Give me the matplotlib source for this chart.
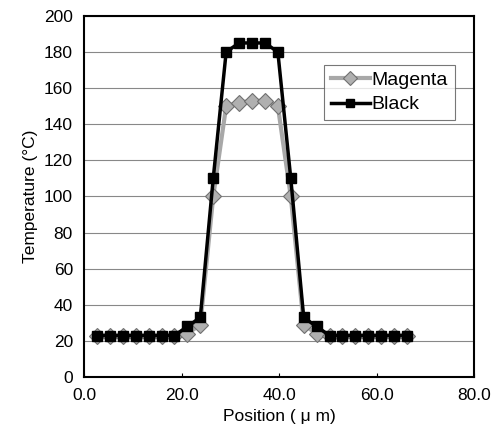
import numpy as np
import matplotlib.pyplot as plt

plt.rcParams["font.family"] = "Liberation Sans"
plt.rcParams["font.size"] = 12

position = [2.65, 5.3, 7.95, 10.6, 13.25, 15.9, 18.55, 21.2, 23.85, 26.5,
            29.15, 31.8, 34.45, 37.1, 39.75, 42.4, 45.05, 47.7, 50.35, 53.0,
            55.65, 58.3, 60.95, 63.6, 66.25]
magenta = [23, 23, 23, 23, 23, 23, 23, 24, 29, 100,
           150, 152, 153, 153, 150, 100, 29, 24, 23, 23,
           23, 23, 23, 23, 23]
black = [23, 23, 23, 23, 23, 23, 23, 28, 33, 110,
         180, 185, 185, 185, 180, 110, 33, 28, 23, 23,
         23, 23, 23, 23, 23]

fig = plt.figure(figsize=(4.97, 4.41), dpi=100)
ax = fig.add_axes([0.169, 0.145, 0.785, 0.819])

ax.grid(axis="y", color="#888888", linewidth=0.8)
ax.set_axisbelow(True)

ax.plot(position, magenta, color="#a8a8a8", linewidth=3, marker="D",
        markersize=8, markerfacecolor="#b0b0b0", markeredgecolor="#707070",
        markeredgewidth=0.8, label="Magenta", zorder=3)
ax.plot(position, black, color="black", linewidth=2.5, marker="s",
        markersize=7.5, label="Black", zorder=4)

ax.set_xlim(0, 80)
ax.set_ylim(0, 200)
ax.set_xticks(np.arange(0, 81, 20))
ax.set_xticklabels(["0.0", "20.0", "40.0", "60.0", "80.0"])
ax.set_yticks(np.arange(0, 201, 20))
ax.tick_params(axis="both", direction="in", length=3, labelsize=12.5, pad=8)
ax.tick_params(axis="y", length=0)
for s in ax.spines.values():
    s.set_linewidth(1.5)

ax.set_xlabel("Position ( μ m)", fontsize=12.5)
ax.set_ylabel("Temperature (°C)", fontsize=12.5)

leg = ax.legend(loc="upper right", bbox_to_anchor=(0.95, 0.865), fontsize=14,
                frameon=True, fancybox=False, edgecolor="#555555",
                handlelength=2.0, handletextpad=0.1, borderpad=0.35,
                labelspacing=0.35, borderaxespad=0, markerscale=0.85)
leg.get_frame().set_linewidth(0.8)

fig.savefig("out.png", dpi=100)
